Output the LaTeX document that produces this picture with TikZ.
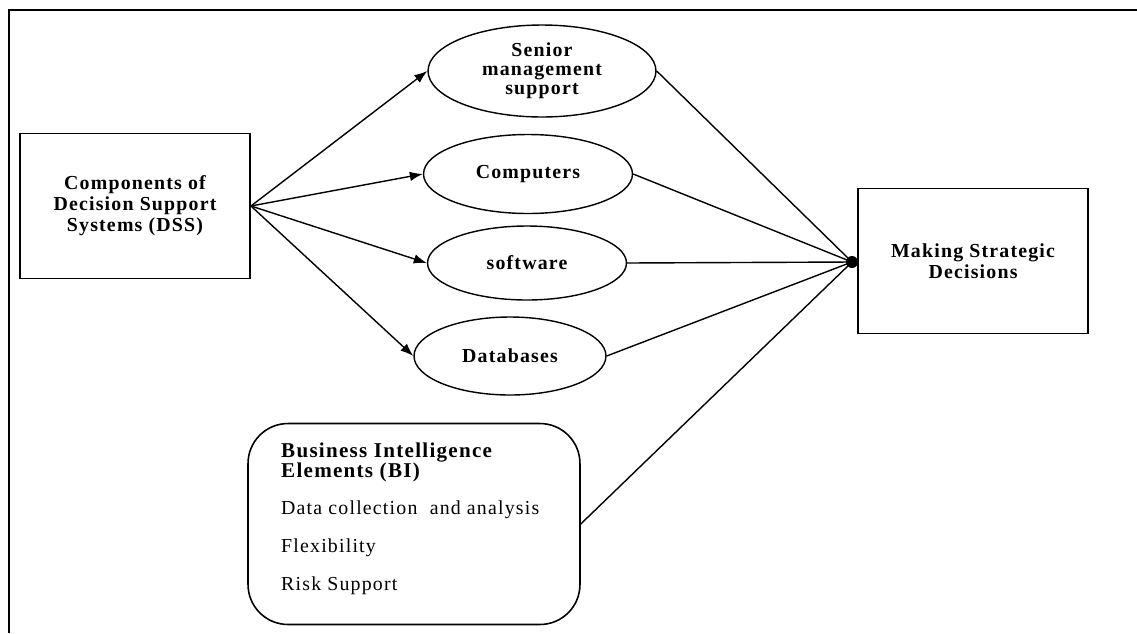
\documentclass[tikz,border=0pt]{standalone}
\usepackage{fontspec}
\setmainfont[LetterSpace=6]{Liberation Serif}
\usetikzlibrary{shapes.geometric,arrows.meta}
\tikzset{
  every node/.style={font=\fontsize{11.3}{11.8}\selectfont\bfseries, align=center},
  sqbox/.style={draw, line width=1.1pt, rectangle, minimum width=4.6cm, minimum height=2.9cm, inner sep=0pt},
  oval/.style={draw, line width=0.8pt, ellipse, inner sep=0pt},
  bibox/.style={draw, line width=0.9pt, rectangle, rounded corners=0.8cm, minimum width=6.64cm, minimum height=4.02cm},
  arr/.style={line width=0.8pt, -{Latex[length=2.6mm,width=1.9mm]}},
  ln/.style={line width=0.8pt},
  frame/.style={line width=0.9pt}
}
\begin{document}
\begin{tikzpicture}[x=0.02cm,y=-0.02cm]
\useasboundingbox (0,0) rectangle (1137,633);
\draw[frame] (8,10) -- (1137,10);
\draw[frame] (9,10) -- (9,633);
\node[sqbox, font=\fontsize{11.3}{12}\selectfont\bfseries] (dss) at (135,206) {Components of\\Decision Support\\Systems (DSS)};
\node[oval, minimum width=4.56cm, minimum height=1.84cm, font=\fontsize{11.3}{10.8}\selectfont\bfseries] (sen) at (542,71) {Senior\\management\\support};
\node[oval, minimum width=4.18cm, minimum height=1.58cm] (comp) at (528,174) {Computers};
\node[oval, minimum width=3.98cm, minimum height=1.48cm] (soft) at (527,263) {software};
\node[oval, minimum width=3.84cm, minimum height=1.56cm] (db) at (510,356) {Databases};
\node[sqbox] (msd) at (973,261) {Making Strategic\\Decisions};
\node[bibox] (bi) at (414,524) {};
\node[anchor=north west, align=left, font=\fontsize{11.3}{12}\selectfont] (bitext) at (275,437)
  {{\bfseries\fontsize{12}{11.5}\selectfont Business Intelligence}\\[-1pt]
   {\bfseries\fontsize{12}{11.5}\selectfont Elements (BI)}\\[9.5pt]
   Data collection~ and analysis\\[9.5pt]
   Flexibility\\[9.5pt]
   Risk Support};
\coordinate (J) at (852,262);
\draw[arr] (dss.east) -- (sen.west);
\draw[arr] (dss.east) -- (comp.west);
\draw[arr] (dss.east) -- (soft.west);
\draw[arr] (dss.east) -- (db.west);
\draw[ln] (sen.east) -- (J);
\draw[ln] (comp.east) -- (J);
\draw[ln] (soft.east) -- (J);
\draw[ln] (db.east) -- (J);
\draw[ln] (bi.east) -- (J);
\fill (J) circle (0.12cm);
\end{tikzpicture}
\end{document}
